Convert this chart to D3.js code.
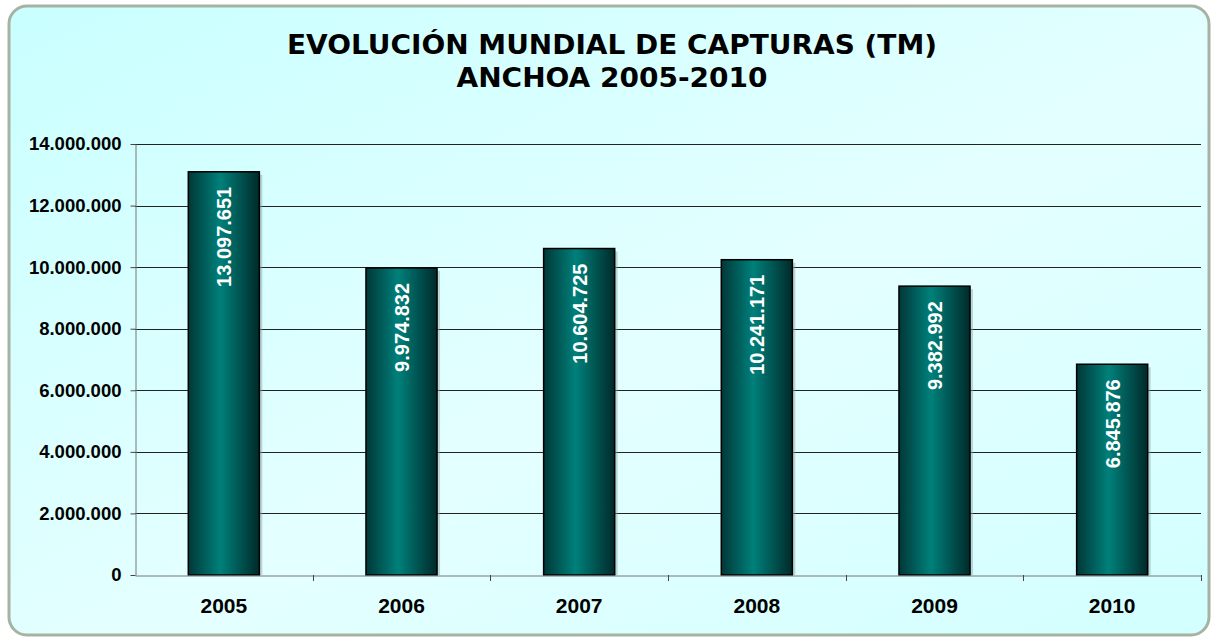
<!DOCTYPE html>
<html>
<head>
<meta charset="utf-8">
<script src="https://cdn.jsdelivr.net/npm/d3@7"></script>
<style>
  body { margin: 0; background: #ffffff; }
  svg { display: block; }
  .tickText { font-family: "Liberation Sans", Arial, sans-serif; font-weight: bold; fill: #000; }
</style>
</head>
<body>
<div id="chart"></div>
<script>
// Chart data
var years = ["2005", "2006", "2007", "2008", "2009", "2010"];
var catches = [13097651, 9974832, 10604725, 10241171, 9382992, 6845876];
var yTicks = [0, 2000000, 4000000, 6000000, 8000000, 10000000, 12000000, 14000000];
var titleLines = ["EVOLUCIÓN MUNDIAL DE CAPTURAS (TM)", "ANCHOA 2005-2010"];

var svgWidth = 1212;
var svgHeight = 639;

var chartMargin = { top: 144, right: 11, bottom: 64, left: 135 };
var chartWidth = svgWidth - chartMargin.left - chartMargin.right;
var chartHeight = svgHeight - chartMargin.top - chartMargin.bottom;

var svg = d3.select("#chart")
    .append("svg")
    .attr("width", svgWidth)
    .attr("height", svgHeight);

var defs = svg.append("defs");

// background gradient
var bg = defs.append("linearGradient")
    .attr("id", "bgGrad")
    .attr("x1", "0").attr("y1", "0").attr("x2", "1").attr("y2", "1");
bg.append("stop").attr("offset", "0%").attr("stop-color", "#c9ffff");
bg.append("stop").attr("offset", "55%").attr("stop-color", "#e4ffff");
bg.append("stop").attr("offset", "100%").attr("stop-color", "#d2ffff");

// bar gradient (dark edges, bright teal middle)
var barGrad = defs.append("linearGradient")
    .attr("id", "barGrad")
    .attr("x1", "0").attr("y1", "0").attr("x2", "1").attr("y2", "0");
barGrad.append("stop").attr("offset", "0%").attr("stop-color", "#003838");
barGrad.append("stop").attr("offset", "45%").attr("stop-color", "#00807a");
barGrad.append("stop").attr("offset", "100%").attr("stop-color", "#002a2a");

// Card background
svg.append("rect")
    .attr("x", 9)
    .attr("y", 6)
    .attr("width", 1200)
    .attr("height", 629)
    .attr("rx", 18)
    .attr("fill", "url(#bgGrad)")
    .attr("stroke", "#a6b3a2")
    .attr("stroke-width", 3);

// Title
var title = svg.append("text")
    .attr("text-anchor", "middle")
    .style("font-family", "'DejaVu Sans', sans-serif")
    .style("font-weight", "bold")
    .style("font-size", "26px")
    .attr("fill", "#000");
title.selectAll("tspan")
    .data(titleLines)
    .enter()
    .append("tspan")
    .attr("x", 612)
    .attr("y", (d, i) => 54 + i * 33)
    .attr("textLength", (d, i) => i === 0 ? 650 : 311)
    .attr("lengthAdjust", "spacingAndGlyphs")
    .text(d => d);

var chartGroup = svg.append("g")
    .attr("transform", `translate(${chartMargin.left}, ${chartMargin.top})`);

var xScale = d3.scaleBand()
    .domain(years)
    .range([0, chartWidth])
    .paddingInner(0.6)
    .paddingOuter(0.3);

var yScale = d3.scaleLinear()
    .domain([0, 14000000])
    .range([chartHeight, 0]);

// Gridlines
chartGroup.selectAll(".grid")
    .data(yTicks.slice(1))
    .enter()
    .append("line")
    .attr("x1", 0)
    .attr("x2", chartWidth)
    .attr("y1", d => Math.round(yScale(d)) + 0.5)
    .attr("y2", d => Math.round(yScale(d)) + 0.5)
    .attr("stroke", "#222")
    .attr("stroke-width", 1);

// Y axis
var fmt = d3.formatLocale({ decimal: ",", thousands: ".", grouping: [3], currency: ["", ""] }).format(",d");

var leftAxis = d3.axisLeft(yScale)
    .tickValues(yTicks)
    .tickFormat(fmt)
    .tickSizeInner(5)
    .tickSizeOuter(0)
    .tickPadding(9);

var yAxisG = chartGroup.append("g")
    .attr("transform", "translate(0.5, 0)")
    .call(leftAxis);
yAxisG.select(".domain").attr("stroke", "#777");
yAxisG.selectAll(".tick line").attr("stroke", "#444");
yAxisG.selectAll("text")
    .attr("class", "tickText")
    .style("font-size", "18.5px");

// Bar shadows
var step = xScale.step();
chartGroup.selectAll(".shadow")
    .data(catches)
    .enter()
    .append("rect")
    .attr("x", (d, i) => xScale(years[i]) + 3)
    .attr("y", d => yScale(d) + 3)
    .attr("width", xScale.bandwidth())
    .attr("height", d => chartHeight - yScale(d) - 3)
    .attr("fill", "#8aa5a5")
    .attr("opacity", 0.45);

// Bars
chartGroup.selectAll(".bar")
    .data(catches)
    .enter()
    .append("rect")
    .attr("class", "bar")
    .attr("x", (d, i) => xScale(years[i]))
    .attr("y", d => yScale(d))
    .attr("width", xScale.bandwidth())
    .attr("height", d => chartHeight - yScale(d))
    .attr("fill", "url(#barGrad)")
    .attr("stroke", "#000")
    .attr("stroke-width", 1.5);

// Value labels (rotated)
chartGroup.selectAll(".valueLabel")
    .data(catches)
    .enter()
    .append("text")
    .attr("class", "valueLabel")
    .attr("transform", (d, i) => `translate(${xScale(years[i]) + xScale.bandwidth() / 2 + 7.5}, ${yScale(d) + 15}) rotate(-90)`)
    .attr("text-anchor", "end")
    .style("font-family", "'Liberation Sans', Arial, sans-serif")
    .style("font-weight", "bold")
    .style("font-size", "20px")
    .attr("fill", "#fff")
    .text(d => fmt(d));

// X axis
var bottomAxis = d3.axisBottom(xScale)
    .tickSize(0)
    .tickPadding(23);

var xAxisG = chartGroup.append("g")
    .attr("transform", `translate(0, ${chartHeight + 0.5})`)
    .call(bottomAxis);
xAxisG.select(".domain").attr("stroke", "#777");
xAxisG.selectAll("text")
    .attr("class", "tickText")
    .style("font-size", "21px");

// category boundary ticks
chartGroup.selectAll(".catTick")
    .data(years.slice(1).concat(["end"]))
    .enter()
    .append("line")
    .attr("x1", (d, i) => Math.round((i + 1) * step) + 0.5)
    .attr("x2", (d, i) => Math.round((i + 1) * step) + 0.5)
    .attr("y1", chartHeight)
    .attr("y2", chartHeight + 6)
    .attr("stroke", "#444");
</script>
</body>
</html>
